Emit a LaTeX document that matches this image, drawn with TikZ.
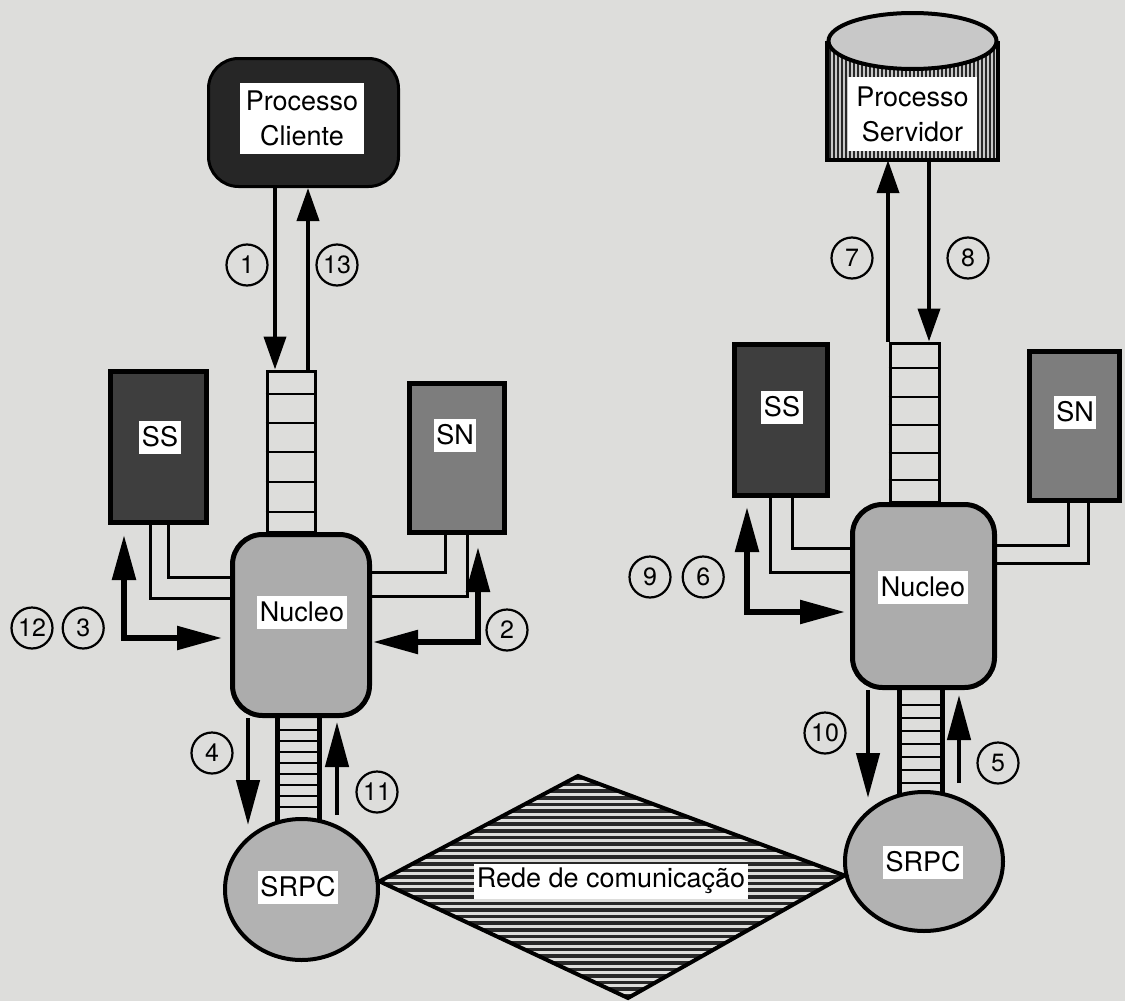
\documentclass[tikz,border=0pt]{standalone}
\usepackage{fontspec}
\setmainfont{TeX Gyre Heros}
\usepackage{tikz}
\usetikzlibrary{arrows.meta, positioning, shapes.geometric}
\definecolor{papel}{RGB}{221,221,219}
\definecolor{cinzaCliente}{RGB}{38,38,38}
\definecolor{cinzaSS}{RGB}{62,62,62}
\definecolor{cinzaSN}{RGB}{125,125,125}
\definecolor{cinzaNucleo}{RGB}{172,172,172}
\definecolor{cinzaRPC}{RGB}{178,178,178}
\definecolor{cinzaTampa}{RGB}{200,200,200}
\definecolor{cinzaTraco}{RGB}{40,40,40}
\tikzset{
  rpc/cliente/.style={rectangle, rounded corners=30pt, draw=black,
    line width=3pt, fill=cinzaCliente, minimum width=190pt,
    minimum height=128pt},
  rpc/tag/.style={rectangle, fill=white, inner xsep=2.5pt, inner ysep=2pt,
    minimum height=33pt, align=center},
  rpc/ss/.style={rectangle, draw=black, line width=5pt, fill=cinzaSS},
  rpc/sn/.style={rectangle, draw=black, line width=5pt, fill=cinzaSN},
  rpc/nucleo/.style={rectangle, rounded corners=30pt, draw=black,
    line width=5pt, fill=cinzaNucleo},
  rpc/srpc/.style={ellipse, draw=black, line width=4pt, fill=cinzaRPC,
    inner sep=0pt},
  rpc/fila/.style={rectangle, draw=black, line width=3pt, fill=papel,
    inner sep=0pt},
  rpc/filaRPC/.style={rectangle, draw=black, line width=4.5pt, fill=papel,
    inner sep=0pt},
  rpc/degrau/.style={line width=2.2pt},
  rpc/tubo/.style={line width=3pt, draw=black},
  rpc/seta/.style={-{Triangle[length=33pt,width=22pt]}, line width=4pt},
  rpc/seta2/.style={-{Triangle[length=45pt,width=23pt]}, line width=4.5pt},
  rpc/duas/.style={{Triangle[length=45pt,width=23pt]}-{Triangle[length=45pt,width=23pt]},
    line width=5.5pt},
  rpc/num/.style={circle, draw=black, line width=2.2pt, minimum size=41pt,
    inner sep=0pt, font=\fontsize{25}{25}\selectfont}
}

\begin{document}
\begin{tikzpicture}[x=1pt, y=-1pt, font=\fontsize{27}{35}\selectfont]
  \fill[papel] (0,0) rectangle (1125,1001);
  \useasboundingbox (0,0) rectangle (1125,1001);

  % filas (desenhadas antes dos nucleos)
  \node[rpc/fila, minimum width=48pt, minimum height=161pt] (qcli) at (291,451.5) {};
  \node[rpc/fila, minimum width=49pt, minimum height=159pt] (qsrv) at (914.5,422.5) {};
  \node[rpc/filaRPC, minimum width=42pt, minimum height=110pt] (qrpcL) at (298.5,771) {};
  \node[rpc/filaRPC, minimum width=43pt, minimum height=112pt] (qrpcR) at (921,744) {};
  \foreach \y in {394,423,452,482,512}
    \draw[rpc/degrau] (qcli.west |- 0,\y) -- (qcli.east |- 0,\y);
  \foreach \y in {368,397,425,453,480}
    \draw[rpc/degrau] (qsrv.west |- 0,\y) -- (qsrv.east |- 0,\y);
  \foreach \y in {730,741,...,807}
    \draw[rpc/degrau] (qrpcL.west |- 0,\y) -- (qrpcL.east |- 0,\y);
  \foreach \y in {705,718,...,783}
    \draw[rpc/degrau] (qrpcR.west |- 0,\y) -- (qrpcR.east |- 0,\y);

  % processo cliente
  \node[rpc/cliente] (cli) at (303.5,122.5) {};
  \node[rpc/tag, minimum width=124pt, minimum height=71pt] (clitxt) at (302,118.5)
        {Processo\\Cliente};

  % processo servidor (cilindro)
  \node[minimum width=171pt, minimum height=148pt, inner sep=0pt] (srv) at (912.5,86) {};
  \fill[cinzaTampa] (srv.south west) rectangle ([yshift=-29pt]srv.north east);
  \foreach \x in {830,834,...,996}
    \draw[cinzaTraco, line width=1.7pt] (\x,41) -- (\x,160);
  \node[rpc/tag, minimum width=129pt, minimum height=74pt] (srvtxt) at (912.5,114)
        {Processo\\Servidor};
  \draw[line width=4pt] (srv.west |- 0,41) -- (srv.south west) -- (srv.south east)
        -- (srv.east |- 0,41);
  \draw[line width=4pt, fill=cinzaTampa] (912.5,41) ellipse [x radius=84pt, y radius=28pt];

  % lado cliente
  \node[rpc/ss, minimum width=96pt, minimum height=151pt] (ssL) at (158.5,447) {};
  \node[rpc/tag] at (160,437) {SS};
  \node[rpc/sn, minimum width=95pt, minimum height=149pt] (snL) at (457,458) {};
  \node[rpc/tag] at (455,435) {SN};
  \node[rpc/nucleo, minimum width=137pt, minimum height=181pt] (nucL) at (301,625) {};
  \node[rpc/tag] at (302,612) {Nucleo};
  \node[rpc/srpc, minimum width=153pt, minimum height=141pt] (srpcL) at (301.5,889.5) {};
  \node[rpc/tag] at (298,887) {SRPC};

  % lado servidor
  \node[rpc/ss, minimum width=93pt, minimum height=151pt] (ssR) at (781,420) {};
  \node[rpc/tag] at (782,407) {SS};
  \node[rpc/sn, minimum width=90pt, minimum height=149pt] (snR) at (1074.5,426) {};
  \node[rpc/tag] at (1075,412) {SN};
  \node[rpc/nucleo, minimum width=142pt, minimum height=183pt] (nucR) at (923.5,596) {};
  \node[rpc/tag] at (923,587) {Nucleo};
  \node[rpc/srpc, minimum width=158pt, minimum height=139pt] (srpcR) at (924,861.5) {};
  \node[rpc/tag] at (923,862) {SRPC};

  % rede de comunicacao
  \coordinate (netT) at (578,776);
  \coordinate (netB) at (628,998);
  \begin{scope}
    \clip (srpcL.6) -- (netT) -- (srpcR.190) -- (netB) -- cycle;
    \foreach \y in {778,784.6,...,1000}
      \draw[cinzaTraco, line width=3.6pt] (370,\y) -- (860,\y);
  \end{scope}
  \draw[line width=4pt, line join=miter] (srpcL.6) -- (netT) -- (srpcR.190) -- (netB) -- cycle;
  \node[rpc/tag, minimum height=35pt] (net) at (611,881) {Rede de comunica\c{c}\~ao};

  % tubos entre servidores e nucleo
  \draw[rpc/tubo] (ssL.south -| 150,0) |- (nucL.west |- 0,598);
  \draw[rpc/tubo] (ssL.south -| 168,0) |- (nucL.west |- 0,577);
  \draw[rpc/tubo] (snL.south -| 445,0) |- (nucL.east |- 0,572);
  \draw[rpc/tubo] (snL.south -| 467,0) |- (nucL.east |- 0,596);
  \draw[rpc/tubo] (ssR.south -| 770,0) |- (nucR.west |- 0,572);
  \draw[rpc/tubo] (ssR.south -| 792,0) |- (nucR.west |- 0,548);
  \draw[rpc/tubo] (snR.south -| 1068,0) |- (nucR.east |- 0,545);
  \draw[rpc/tubo] (snR.south -| 1088,0) |- (nucR.east |- 0,563);

  % setas
  \draw[rpc/seta] (cli.south -| 275,0) -- (qcli.north -| 275,0);
  \draw[rpc/seta] (qcli.north -| 308,0) -- (cli.south -| 308,0);
  \draw[rpc/seta] (qsrv.north -| 888,0) -- (srv.south -| 888,0);
  \draw[rpc/seta] (srv.south -| 929,0) -- (qsrv.north -| 929,0);
  \draw[rpc/duas, shorten <=10pt, shorten >=8pt] (ssL.south -| 124,0) |- (nucL.west |- 0,638);
  \draw[rpc/duas, shorten <=12pt, shorten >=1pt] (snL.south -| 478,0) |- (nucL.east |- 0,642);
  \draw[rpc/duas, shorten <=9pt, shorten >=5pt] (ssR.south -| 747,0) |- (nucR.west |- 0,612);
  \draw[rpc/seta2, shorten >=-8pt] (nucL.south -| 248,0) -- (srpcL.north -| 248,0);
  \draw[rpc/seta2, shorten <=2pt, shorten >=4pt] (srpcL.north -| 337,0) -- (nucL.south -| 337,0);
  \draw[rpc/seta2, shorten >=-8pt] (nucR.south -| 868,0) -- (srpcR.north -| 868,0);
  \draw[rpc/seta2, shorten <=7pt, shorten >=5pt] (srpcR.north -| 959,0) -- (nucR.south -| 959,0);

  % numeros
  \node[rpc/num] (n1) at (247,265) {1};
  \node[rpc/num] (n13) at (337,265) {13};
  \node[rpc/num] (n12) at (32,628) {12};
  \node[rpc/num, right=8pt of n12] (n3) {3};
  \node[rpc/num] (n2) at (507,630) {2};
  \node[rpc/num] (n4) at (212,753) {4};
  \node[rpc/num] (n11) at (377,792) {11};
  \node[rpc/num] (n7) at (852,258) {7};
  \node[rpc/num] (n8) at (968,258) {8};
  \node[rpc/num] (n9) at (650,577) {9};
  \node[rpc/num, right=10pt of n9] (n6) {6};
  \node[rpc/num] (n10) at (825,733) {10};
  \node[rpc/num] (n5) at (998,763) {5};
\end{tikzpicture}
\end{document}
